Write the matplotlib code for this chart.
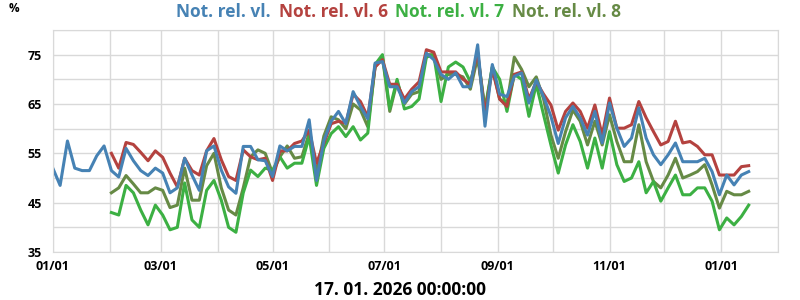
import numpy as np
import pandas as pd
import matplotlib
matplotlib.use('Agg')
import matplotlib.pyplot as plt
import matplotlib.dates as mdates

plt.rcParams['font.family'] = ['Open Sans', 'DejaVu Sans']

# sample every 4 days from 2025-01-01
dates = pd.date_range('2025-01-01', periods=96, freq='4D')

rel_vl = [
    52.0, 48.5, 57.5, 52.0, 51.5, 51.5, 54.5, 56.5, 51.5, 50.2, 56.0, 53.5,
    51.5, 50.5, 52.0, 51.0, 47.0, 48.0, 54.0, 50.6, 47.5, 55.5, 56.5, 51.6,
    48.2, 46.9, 56.4, 56.4, 53.7, 53.5, 50.3, 56.5, 55.5, 56.4, 56.4, 61.8,
    49.5, 57.5, 61.5, 63.5, 61.0, 67.5, 64.5, 62.0, 73.3, 73.6, 68.5, 68.5,
    65.2, 67.5, 68.5, 75.3, 74.0, 71.0, 70.0, 71.3, 68.5, 68.5, 77.0, 60.5,
    73.0, 67.0, 66.5, 70.6, 71.3, 65.2, 69.9, 66.5, 62.5, 57.0, 62.2, 64.5,
    62.2, 58.7, 63.5, 57.1, 65.2, 60.1, 56.4, 58.1, 64.2, 58.1, 54.7, 52.7,
    54.7, 57.1, 53.3, 53.3, 53.3, 54.0, 51.3, 46.6, 50.6, 48.6, 50.6, 51.3,
]

# the other three series start on 2025-02-02 (9th sample)
rel_vl_6 = [
    55.0, 52.0, 57.2, 56.8, 55.2, 53.5, 55.5, 54.2, 51.0, 48.2, 54.0, 51.5,
    50.6, 55.5, 58.0, 53.7, 50.3, 49.5, 55.7, 54.3, 53.7, 54.0, 49.5, 55.5,
    55.5, 57.0, 57.5, 59.7, 53.0, 57.0, 61.0, 61.5, 61.1, 67.0, 65.5, 62.4,
    72.5, 74.0, 69.0, 69.0, 66.0, 68.0, 69.5, 76.0, 75.5, 71.5, 71.5, 71.5,
    70.0, 69.0, 75.5, 63.0, 72.0, 66.0, 64.5, 71.0, 71.5, 66.0, 69.5, 67.0,
    64.8, 59.7, 63.5, 65.2, 63.5, 60.1, 64.8, 58.7, 66.2, 60.1, 60.1, 60.8,
    65.5, 62.2, 59.4, 56.7, 57.4, 61.5, 57.1, 57.4, 56.4, 54.7, 54.7, 50.6,
    50.6, 50.6, 52.3, 52.5,
]

rel_vl_7 = [
    43.0, 42.5, 48.5, 47.0, 43.5, 40.5, 44.5, 42.5, 39.5, 40.0, 49.0, 41.5,
    40.0, 47.5, 49.5, 45.5, 40.0, 39.0, 47.0, 51.6, 50.3, 52.0, 51.6, 54.3,
    52.0, 53.0, 53.0, 58.4, 48.5, 56.0, 59.0, 60.4, 58.4, 60.4, 57.7, 59.1,
    73.0, 75.0, 64.0, 70.0, 64.0, 64.5, 66.0, 74.5, 75.0, 65.5, 72.5, 73.5,
    72.5, 69.5, 75.0, 64.0, 72.5, 70.0, 63.5, 71.0, 70.0, 62.5, 69.0, 62.8,
    56.7, 51.0, 56.7, 60.8, 57.4, 52.0, 58.1, 52.0, 59.4, 52.7, 49.3, 50.0,
    53.3, 47.0, 49.3, 45.3, 48.0, 50.6, 46.6, 46.6, 48.0, 48.0, 45.3, 39.5,
    41.9, 40.5, 42.2, 44.5,
]

rel_vl_8 = [
    47.0, 48.0, 50.5, 48.8, 47.0, 47.0, 48.0, 47.5, 44.0, 44.5, 52.0, 45.5,
    45.5, 52.5, 55.0, 48.0, 43.5, 42.5, 48.0, 54.3, 55.7, 55.0, 51.0, 54.3,
    56.5, 54.0, 54.3, 59.1, 51.0, 58.5, 62.4, 61.8, 60.0, 65.0, 63.8, 60.4,
    72.5, 74.5, 63.5, 69.5, 65.0, 67.0, 67.5, 75.0, 75.0, 70.0, 71.0, 71.0,
    70.5, 68.0, 74.5, 63.5, 72.5, 66.0, 65.0, 74.5, 72.0, 68.5, 70.5, 66.0,
    58.7, 54.0, 59.4, 63.8, 61.5, 56.7, 61.5, 56.7, 62.8, 57.4, 53.3, 53.3,
    60.8, 53.3, 49.3, 48.0, 50.6, 54.0, 50.0, 50.6, 51.3, 52.7, 48.6, 43.9,
    47.3, 46.6, 46.6, 47.3,
]

names = ['Not. rel. vl.', 'Not. rel. vl. 6', 'Not. rel. vl. 7', 'Not. rel. vl. 8']
colors = ['#4682b4', '#b4423f', '#3cb043', '#668a45']
stamp = '17. 01. 2026 00:00:00'

fig = plt.figure(figsize=(8, 3), dpi=100)
ax = fig.add_axes([0.066, 0.16, 0.9065, 0.74])

later = dates[8:]
# draw order: 8, 7, 6 then the base series on top
ax.plot(later, rel_vl_8, color=colors[3], lw=2.2)
ax.plot(later, rel_vl_7, color=colors[2], lw=2.2)
ax.plot(later, rel_vl_6, color=colors[1], lw=2.2)
ax.plot(dates, rel_vl, color=colors[0], lw=2.2)

ax.set_xlim(pd.Timestamp('2025-01-01'), pd.Timestamp('2026-02-01'))
ax.set_ylim(35, 80)

ax.set_yticks([35, 45, 55, 65, 75])
ax.set_yticks([40, 50, 60, 70, 80], minor=True)
ax.xaxis.set_major_locator(mdates.MonthLocator(bymonth=[1, 3, 5, 7, 9, 11]))
ax.xaxis.set_minor_locator(mdates.MonthLocator(bymonth=[2, 4, 6, 8, 10, 12]))
ax.xaxis.set_major_formatter(mdates.DateFormatter('%m/%d'))

ax.grid(True, which='both', color='#d9d9d9', lw=1)
ax.set_axisbelow(True)
ax.tick_params(which='both', length=0)
ax.tick_params(axis='y', pad=8)
ax.tick_params(axis='x', pad=6)
for lbl in ax.get_xticklabels() + ax.get_yticklabels():
    lbl.set_fontsize(9)
    lbl.set_fontweight('bold')
for sp in ax.spines.values():
    sp.set_color('#d9d9d9')

# legend drawn as coloured title text
xs = [176, 279, 395, 512]
for name, c, x in zip(names, colors, xs):
    fig.text(x / 800, 1 - 12 / 300, name, color=c, fontsize=12.5,
             fontweight='bold', ha='left', va='center')

fig.text(14 / 800, 1 - 9 / 300, '%', fontsize=8.5, fontweight='bold',
         ha='center', va='center')
fig.text(400 / 800, 1 - 290 / 300, stamp, fontsize=12.5, fontweight='bold',
         ha='center', va='center')

fig.savefig('out.png', dpi=100)
